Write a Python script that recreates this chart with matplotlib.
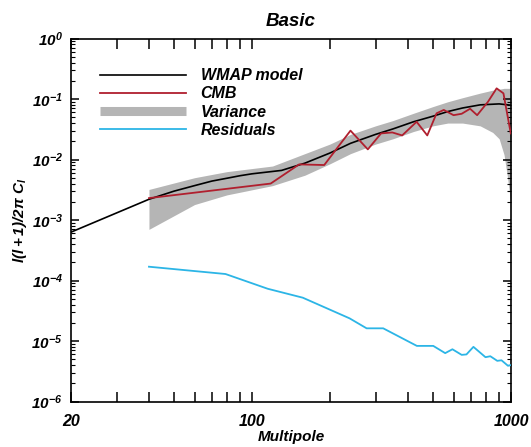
import math
import matplotlib
matplotlib.use("Agg")
import matplotlib.pyplot as plt
from matplotlib.ticker import FixedLocator, LogLocator, FuncFormatter, NullFormatter
from matplotlib.lines import Line2D

plt.rcParams['font.family'] = ['Liberation Sans', 'DejaVu Sans']
plt.rcParams['font.weight'] = 'bold'
plt.rcParams['font.style'] = 'italic'
plt.rcParams['axes.titleweight'] = 'bold'
plt.rcParams['axes.labelweight'] = 'bold'
plt.rcParams['mathtext.fontset'] = 'custom'
plt.rcParams['mathtext.rm'] = 'Liberation Sans:bold:italic'
plt.rcParams['mathtext.it'] = 'Liberation Sans:bold:italic'
plt.rcParams['mathtext.bf'] = 'Liberation Sans:bold:italic'
plt.rcParams['mathtext.default'] = 'rm'

# WMAP best-fit model spectrum
model_l = [20, 40, 50, 60, 70, 80, 90, 100, 130, 160, 200, 240, 300, 350, 420, 500, 570,
           650, 760, 900, 1000]
model_cl = [6.3e-4, 2.2e-3, 3.0e-3, 3.7e-3, 4.4e-3, 4.9e-3, 5.4e-3, 5.8e-3, 6.6e-3, 8.7e-3,
            0.0128, 0.0185, 0.026, 0.032, 0.042, 0.052, 0.062, 0.071, 0.080, 0.083, 0.079]

# recovered CMB band powers
cmb_l = [40, 118, 152, 190, 240, 280, 315, 348, 380, 432, 475, 516, 550, 600, 645, 695,
         740, 815, 880, 935, 998]
cmb_cl = [2.3e-3, 4.0e-3, 8.3e-3, 8.1e-3, 0.030, 0.0147, 0.027, 0.028, 0.025, 0.042, 0.025,
          0.058, 0.066, 0.054, 0.057, 0.069, 0.054, 0.090, 0.150, 0.124, 0.027]

# variance envelope
var_l = [40, 60, 80, 120, 160, 200, 240, 300, 350, 420, 500, 570, 650, 760, 850, 900, 940, 970, 1000]
var_hi = [3.2e-3, 5.0e-3, 6.3e-3, 7.8e-3, 0.0125, 0.018, 0.026, 0.036, 0.044, 0.058, 0.075,
          0.090, 0.105, 0.125, 0.14, 0.145, 0.15, 0.15, 0.15]
var_lo = [7.0e-4, 1.8e-3, 2.6e-3, 3.7e-3, 5.5e-3, 8.5e-3, 0.0125, 0.018, 0.022, 0.029, 0.036,
          0.040, 0.040, 0.036, 0.028, 0.022, 0.012, 0.005, 1.8e-3]

# residual power
res_l = [40, 79, 115, 157, 238, 277, 321, 433, 501, 557, 594, 645, 673, 716, 797, 832, 885,
         919, 973, 1000]
res_cl = [1.69e-4, 1.28e-4, 7.3e-5, 5.2e-5, 2.37e-5, 1.62e-5, 1.62e-5, 8.3e-6, 8.3e-6, 6.3e-6,
          7.3e-6, 5.9e-6, 6.0e-6, 8.0e-6, 5.4e-6, 5.6e-6, 4.7e-6, 4.8e-6, 3.9e-6, 4.0e-6]

x_major = [20, 100, 1000]
x_minor = [30, 40, 50, 60, 70, 80, 90, 200, 300, 400, 500, 600, 700, 800, 900]

GRAY = '#b5b5b5'
RED = '#b01f2e'
CYAN = '#2cb5e6'

fig = plt.figure(figsize=(5.31, 4.47), dpi=100)
ax = fig.add_axes([71 / 531, 1 - 401.5 / 447, 440 / 531, 363 / 447])

ax.fill_between(var_l, var_lo, var_hi, color=GRAY, lw=0, zorder=1)
ax.plot(model_l, model_cl, color='black', lw=1.2, zorder=3)
ax.plot(cmb_l, cmb_cl, color=RED, lw=1.3, zorder=4)
ax.plot(res_l, res_cl, color=CYAN, lw=1.3, zorder=3)

ax.set_xscale('log')
ax.set_yscale('log')
ax.set_xlim(20, 1000)
ax.set_ylim(1e-6, 1)

ax.xaxis.set_major_locator(FixedLocator(x_major))
ax.xaxis.set_minor_locator(FixedLocator(x_minor))
ax.xaxis.set_major_formatter(FuncFormatter(lambda v, p: f'{v:g}'))
ax.xaxis.set_minor_formatter(NullFormatter())
ax.yaxis.set_major_locator(LogLocator(base=10, numticks=10))
ax.yaxis.set_minor_locator(LogLocator(base=10, subs=range(2, 10), numticks=10))
ax.yaxis.set_major_formatter(FuncFormatter(lambda v, p: r'$10^{%d}$' % round(math.log10(v))))
ax.yaxis.set_minor_formatter(NullFormatter())

ax.tick_params(axis='x', which='both', direction='in', top=True, length=7, width=1.1,
               labelsize=11.5, pad=9)
ax.tick_params(axis='y', which='major', direction='in', right=True, length=6, width=1.1,
               labelsize=11, pad=6)
ax.tick_params(axis='y', which='minor', direction='in', right=True, length=3, width=0.8)
for s in ax.spines.values():
    s.set_linewidth(1.2)

ax.set_xlabel('Multipole', fontsize=11, labelpad=1)
ax.set_ylabel(r'$l(l+1)/2\pi\ C_l$', fontsize=11, labelpad=2)
ax.set_title('Basic', fontsize=13.5, pad=9)

handles = [
    Line2D([], [], color='black', lw=1.2),
    Line2D([], [], color=RED, lw=1.3),
    Line2D([], [], color=GRAY, lw=6.5, solid_capstyle='butt'),
    Line2D([], [], color=CYAN, lw=1.3),
]
labels = ['WMAP model', 'CMB', 'Variance', 'Residuals']
ax.legend(handles, labels, loc='upper left', bbox_to_anchor=(0.066, 0.918),
          frameon=False, fontsize=11.5, handlelength=5.4, handletextpad=0.9,
          labelspacing=0.2, borderpad=0, borderaxespad=0)

fig.savefig('out.png', dpi=100)
